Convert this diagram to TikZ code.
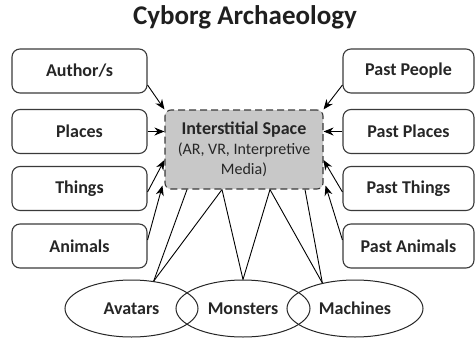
\documentclass[tikz,border=0pt]{standalone}
\usepackage{fontspec}
\setmainfont{Carlito}
\usetikzlibrary{arrows.meta,shapes.geometric}
\definecolor{boxline}{HTML}{3A3A3A}
\definecolor{spacefill}{HTML}{C8C8C8}
\tikzstyle{title}=[font=\fontsize{27}{30}\selectfont\bfseries,text=black!88]
\tikzstyle{sourcebox}=[draw=boxline,line width=1.1pt,rounded corners=8pt,minimum width=135pt,minimum height=44pt,inner sep=0pt,font=\fontsize{18}{20}\selectfont\bfseries,text=black!85]
\tikzstyle{spacebox}=[draw=boxline,fill=spacefill,line width=1.1pt,dash pattern=on 7pt off 4pt,rounded corners=6pt,minimum width=158pt,minimum height=79pt,inner sep=0pt,align=center,font=\fontsize{16}{20}\selectfont,text=black!85]
\tikzstyle{hybrid}=[ellipse,draw=black!85,line width=1pt,minimum width=133pt,minimum height=57pt,inner sep=0pt,font=\fontsize{18}{20}\selectfont\bfseries,text=black!85]
\tikzstyle{feed}=[draw,line width=0.9pt,-{Stealth[length=10pt,width=8pt]}]
\tikzstyle{link}=[draw,line width=0.9pt]

\begin{document}
\begin{tikzpicture}[x=1pt,y=-1pt]
    \useasboundingbox (0,0) rectangle (475,341);
    % Title
    \node[title] (title) at (245,17) {Cyborg Archaeology};

    % Present side and past side
    \foreach \y/\name/\txt in {71/author/{Author/s}, 131.5/places/Places, 188.5/things/Things, 246/animals/Animals}
        \node[sourcebox] (\name) at (79.5,\y) {\txt};
    \foreach \y/\name/\txt in {71/pastpeople/Past People, 131.5/pastplaces/Past Places, 188.5/pastthings/Past Things, 246/pastanimals/Past Animals}
        \node[sourcebox,minimum width=131pt] (\name) at (408.5,\y) {\txt};

    % The space in between
    \node[spacebox] (inter) at (244,149.5) {{\fontsize{18}{20}\selectfont\bfseries Interstitial Space}\\(AR, VR, Interpretive\\Media)};

    % Hybrids
    \node[hybrid] (avatars) at (131.5,308.5) {Avatars};
    \node[hybrid,minimum width=134pt] (monsters) at (243,308.5) {Monsters};
    \node[hybrid,minimum width=136pt] (machines) at (355,308.5) {Machines};

    % Arrows into the space
    \path[feed] ([yshift=-14pt]author.east) -- (inter.north west);
    \path[feed] (places.east) -- (places.east -| inter.west);
    \path[feed] ([yshift=-3.5pt]things.east) -- ([yshift=-10.5pt]inter.west);
    \path[feed] ([yshift=6pt]animals.east) -- ([xshift=-2pt,yshift=4pt]inter.south west);
    \path[feed] ([yshift=-14pt]pastpeople.west) -- (inter.north east);
    \path[feed] (pastplaces.west) -- (pastplaces.west -| inter.east);
    \path[feed] ([yshift=-3.5pt]pastthings.west) -- ([yshift=-10.5pt]inter.east);
    \path[feed] ([yshift=6pt]pastanimals.west) -- ([xshift=2pt,yshift=4pt]inter.south east);

    % Lines from the hybrids
    \foreach \blob/\ang/\dx in {avatars/51/-57, avatars/51/-22, monsters/90/-22, monsters/90/26, machines/142/26, machines/142/61}
        \path[link] (\blob.\ang) -- ([xshift=\dx pt]inter.south);
\end{tikzpicture}
\end{document}
